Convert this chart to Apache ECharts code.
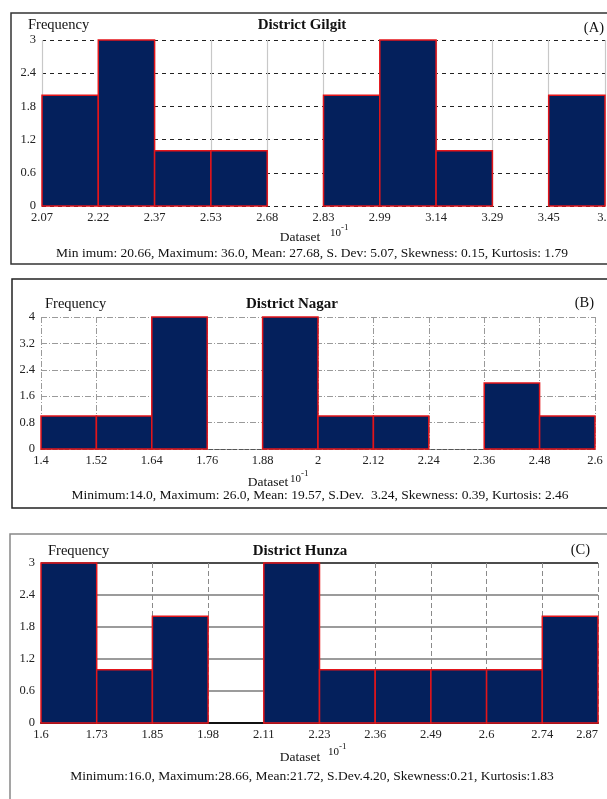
<!DOCTYPE html>
<html>
<head>
<meta charset="utf-8">
<script src="https://cdn.jsdelivr.net/npm/echarts@6/dist/echarts.min.js"></script>
<style>
html,body{margin:0;padding:0;background:#fff;}
#c{width:607px;height:799px;}
</style>
</head>
<body>
<div id="c"></div>
<script>
// ---- data ----
const ticksA = ['2.07','2.22','2.37','2.53','2.68','2.83','2.99','3.14','3.29','3.45','3.6'];
const freqA  = [2,3,1,1,0,2,3,1,0,2];
const ticksB = ['1.4','1.52','1.64','1.76','1.88','2','2.12','2.24','2.36','2.48','2.6'];
const freqB  = [1,1,4,0,4,1,1,0,2,1];
const ticksC = ['1.6','1.73','1.85','1.98','2.11','2.23','2.36','2.49','2.6','2.74','2.87'];
const freqC  = [3,1,2,0,3,1,1,1,1,2];
const yMaxA = 3, yStepA = 0.6;
const yMaxB = 4, yStepB = 0.8;
const yMaxC = 3, yStepC = 0.6;
const titles = ['District Gilgit','District Nagar','District Hunza'];
const tags = ['(A)','(B)','(C)'];
const stats = [
  'Min imum: 20.66, Maximum: 36.0, Mean: 27.68, S. Dev: 5.07, Skewness: 0.15, Kurtosis: 1.79',
  'Minimum:14.0, Maximum: 26.0, Mean: 19.57, S.Dev.  3.24, Skewness: 0.39, Kurtosis: 2.46',
  'Minimum:16.0, Maximum:28.66, Mean:21.72, S.Dev.4.20, Skewness:0.21, Kurtosis:1.83'
];

const FONT = '"Liberation Serif", "Times New Roman", serif';
const chart = echarts.init(document.getElementById('c'), null, {renderer:'canvas'});

function renderItem(params, api) {
  const i = api.value(0), v = api.value(1);
  if (!v) return null;
  const p0 = api.coord([i, 0]);
  const p1 = api.coord([i + 1, v]);
  return {
    type: 'rect',
    shape: {x: p0[0], y: p1[1], width: p1[0] - p0[0], height: p0[1] - p1[1]},
    style: {fill: '#04205c', stroke: '#e3151a', lineWidth: 1.5}
  };
}

function xAxis(idx, ticks, vStyle, axisLineStyle, alignMax) {
  return {
    type: 'value', gridIndex: idx, min: 0, max: ticks.length - 1, interval: 1,
    axisLine: axisLineStyle ? {show: true, lineStyle: axisLineStyle} : {show: false},
    axisTick: {show: false},
    splitLine: {show: true, lineStyle: vStyle},
    axisLabel: {
      formatter: v => ticks[v] ?? '', fontFamily: FONT, fontSize: 12.5, color: '#222', margin: 5,
      alignMaxLabel: alignMax ? 'right' : null
    }
  };
}
function yAxis(idx, max, step, hStyle) {
  return {
    type: 'value', gridIndex: idx, min: 0, max: max, interval: step,
    axisLine: {show: false}, axisTick: {show: false},
    splitLine: {show: true, lineStyle: hStyle},
    axisLabel: {formatter: v => String(+v.toFixed(1)), fontFamily: FONT, fontSize: 12.5, color: '#222', margin: 6}
  };
}

function txt(x, y, text, size, opts) {
  return {
    type: 'text', x: x, y: y, z: 100,
    style: Object.assign({text: text, font: (opts && opts.bold ? 'bold ' : '') + size + 'px ' + FONT,
      fill: '#111', textAlign: 'left', textVerticalAlign: 'middle'}, (opts && opts.style) || {})
  };
}

const panels = [
  {box: [11, 13, 600, 251], boxStroke: '#333', freqX: 28, titleY: 25, titleX: 302, tagX: 604, tagY: 28,
   dataX: 300, dataY: 237, expX: 330, expY: 231, statX: 312, statY: 253},
  {box: [12, 279, 600, 229], boxStroke: '#222', freqX: 45, titleY: 304, titleX: 292, tagX: 594, tagY: 303,
   dataX: 268, dataY: 482, expX: 290, expY: 477, statX: 320, statY: 495},
  {box: [10, 534, 600, 280], boxStroke: '#888', freqX: 48, titleY: 551, titleX: 300, tagX: 590, tagY: 550,
   dataX: 300, dataY: 757, expX: 328, expY: 750, statX: 312, statY: 776}
];

const graphics = [];
panels.forEach((p, k) => {
  graphics.push({type: 'rect', z: 90, shape: {x: p.box[0], y: p.box[1], width: p.box[2], height: p.box[3]},
    style: {fill: 'none', stroke: p.boxStroke, lineWidth: 1.5}});
  graphics.push(txt(p.freqX, p.titleY, 'Frequency', 14.5));
  graphics.push(txt(p.titleX, p.titleY, titles[k], 15, {bold: true, style: {textAlign: 'center'}}));
  graphics.push(txt(p.tagX, p.tagY, tags[k], 14.5, {style: {textAlign: 'right'}}));
  graphics.push(txt(p.dataX, p.dataY, 'Dataset', 13.5, {style: {textAlign: 'center'}}));
  graphics.push(txt(p.expX, p.expY + 2, '10', 11));
  graphics.push(txt(p.expX + 11, p.expY - 3, '-1', 9));
  graphics.push(txt(p.statX, p.statY, stats[k], 13.5, {style: {textAlign: 'center'}}));
});

const option = {
  animation: false,
  backgroundColor: '#fff',
  grid: [
    {left: 42, right: 2, top: 40, height: 166, containLabel: false, outerBoundsMode: 'none'},
    {left: 41, right: 12, top: 317, height: 132, containLabel: false, outerBoundsMode: 'none'},
    {left: 41, right: 9, top: 563, height: 160, containLabel: false, outerBoundsMode: 'none'}
  ],
  xAxis: [
    xAxis(0, ticksA, {color: '#c8c8c8', width: 1.2, type: 'solid'}, null, false),
    xAxis(1, ticksB, {color: '#9a9a9a', width: 1, type: [6, 2, 1, 2]}, {color: '#555', width: 1, type: [4, 2]}, false),
    xAxis(2, ticksC, {color: '#8a8a8a', width: 1, type: [5, 3]}, {color: '#111', width: 2}, true)
  ],
  yAxis: [
    yAxis(0, yMaxA, yStepA, {color: '#222', width: 1, type: [4, 4]}),
    yAxis(1, yMaxB, yStepB, {color: '#9a9a9a', width: 1, type: [6, 2, 1, 2]}),
    yAxis(2, yMaxC, yStepC, {color: ['#7a7a7a', '#7a7a7a', '#7a7a7a', '#7a7a7a', '#7a7a7a', '#111'], width: 1.5, type: 'solid'})
  ],
  series: [
    {type: 'custom', xAxisIndex: 0, yAxisIndex: 0, renderItem, data: freqA.map((v, i) => [i, v])},
    {type: 'custom', xAxisIndex: 1, yAxisIndex: 1, renderItem, data: freqB.map((v, i) => [i, v])},
    {type: 'custom', xAxisIndex: 2, yAxisIndex: 2, renderItem, data: freqC.map((v, i) => [i, v])}
  ],
  graphic: graphics
};
chart.setOption(option);
</script>
</body>
</html>
